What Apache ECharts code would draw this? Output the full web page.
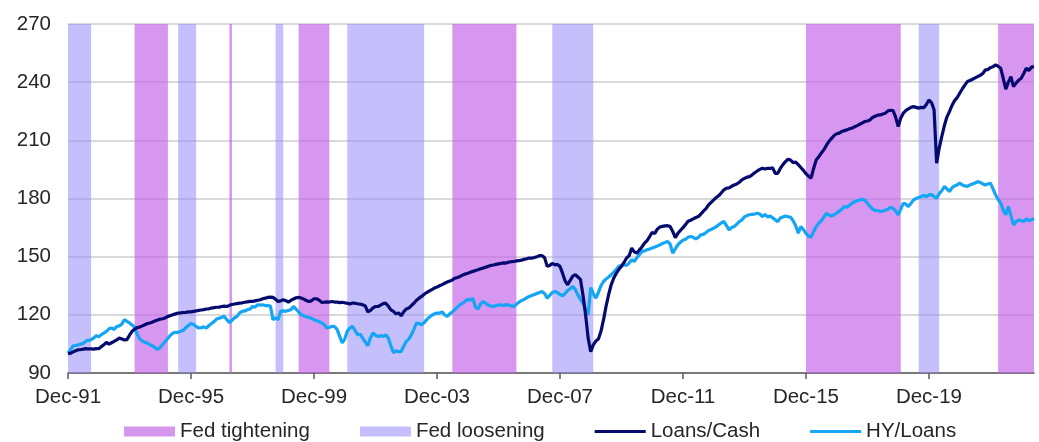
<!DOCTYPE html>
<html>
<head>
<meta charset="utf-8">
<script src="https://cdn.jsdelivr.net/npm/echarts@6/dist/echarts.min.js"></script>
<style>
  html, body { margin: 0; padding: 0; background: #fff; }
  #chart { width: 1039px; height: 442px; }
</style>
</head>
<body>
<div id="chart"></div>
<script>
// Monthly index levels, Dec-91 = 100, running Dec-91 .. May-23
const loansCash = [
  100.0,
  100.2, 100.9, 101.5, 102.0, 102.1, 102.3, 102.6, 102.4, 102.5, 102.3, 102.6, 102.5, // 1992
  103.6, 104.6, 105.8, 104.9, 105.6, 106.3, 107.1, 108.0, 107.6, 107.0, 107.2, 109.5, // 1993
  111.5, 112.6, 113.4, 113.7, 114.3, 114.9, 115.5, 115.8, 116.3, 116.9, 117.3, 117.8, // 1994
  118.0, 118.5, 119.2, 119.6, 120.1, 120.5, 120.9, 121.0, 121.2, 121.3, 121.5, 121.5, // 1995
  121.8, 122.0, 122.3, 122.5, 122.7, 123.0, 123.1, 123.5, 123.7, 123.9, 124.0, 124.3, // 1996
  124.5, 124.3, 124.9, 125.3, 125.6, 125.8, 126.0, 126.2, 126.5, 126.7, 126.9, 126.9, // 1997
  127.2, 127.5, 127.8, 128.3, 128.6, 129.0, 129.1, 129.0, 128.0, 126.9, 127.2, 127.8, // 1998
  127.3, 126.6, 127.4, 128.2, 128.8, 129.0, 128.7, 128.1, 127.4, 126.9, 127.2, 128.3, // 1999
  128.3, 127.6, 126.4, 126.5, 126.7, 126.6, 126.9, 126.6, 126.6, 126.3, 126.5, 126.2, // 2000
  126.0, 125.6, 126.1, 126.0, 125.7, 125.5, 125.2, 124.6, 121.6, 122.2, 123.6, 124.3, // 2001
  124.3, 125.0, 125.8, 126.0, 124.5, 122.6, 121.8, 120.5, 121.0, 119.5, 121.5, 123.0, // 2002
  123.5, 124.8, 126.0, 127.5, 128.6, 129.5, 130.6, 131.5, 132.3, 133.0, 133.8, 134.3, // 2003
  135.0, 135.6, 136.3, 136.9, 137.4, 138.0, 138.9, 139.3, 139.8, 140.5, 141.0, 141.4, // 2004
  142.0, 142.4, 142.9, 143.3, 143.8, 144.1, 144.6, 145.0, 145.5, 145.7, 146.0, 146.3, // 2005
  146.5, 146.8, 146.7, 147.2, 147.4, 147.5, 147.8, 148.0, 148.2, 148.6, 148.9, 149.3, // 2006
  149.2, 149.6, 150.0, 150.5, 150.5, 149.5, 145.0, 145.5, 146.5, 145.8, 146.0, 145.0, // 2007
  141.5, 137.5, 135.5, 137.8, 140.0, 140.7, 139.5, 138.3, 130.0, 120.0, 108.0, 101.0, // 2008
  104.5, 106.5, 107.5, 111.5, 117.5, 124.5, 130.5, 135.5, 139.0, 141.5, 143.5, 145.0, // 2009
  147.0, 149.3, 150.5, 154.4, 152.5, 151.8, 153.5, 155.0, 157.0, 158.3, 160.4, 162.5, // 2010
  162.0, 164.2, 165.3, 165.6, 165.9, 166.0, 165.5, 163.0, 159.8, 162.0, 163.5, 165.0, // 2011
  166.5, 168.3, 168.8, 169.5, 170.2, 170.7, 172.0, 173.5, 174.8, 176.7, 178.0, 179.3, // 2012
  180.5, 181.5, 183.0, 184.5, 185.3, 185.5, 186.3, 187.0, 187.5, 188.4, 189.6, 190.4, // 2013
  191.0, 191.3, 192.2, 193.3, 194.2, 195.0, 195.6, 195.2, 195.6, 195.5, 195.8, 193.0, // 2014
  193.0, 195.5, 197.5, 199.0, 200.3, 199.8, 198.5, 198.8, 197.5, 196.0, 194.5, 192.8, // 2015
  191.5, 190.5, 195.5, 199.9, 201.5, 203.5, 205.1, 207.5, 209.5, 211.0, 212.5, 213.4, // 2016
  213.7, 214.6, 215.0, 215.4, 216.0, 216.3, 217.0, 217.6, 218.3, 219.0, 219.7, 220.0, // 2017
  220.5, 221.8, 222.4, 223.0, 223.1, 223.6, 224.0, 225.2, 225.5, 225.3, 222.0, 217.1, // 2018
  221.5, 224.0, 225.4, 226.2, 227.0, 227.4, 227.0, 226.6, 227.0, 226.8, 228.5, 230.8, // 2019
  229.5, 225.7, 198.2, 206.0, 211.9, 217.5, 222.0, 224.8, 228.0, 230.5, 232.0, 234.3, // 2020
  236.5, 238.5, 240.3, 240.8, 241.5, 242.2, 242.9, 243.5, 244.5, 246.3, 246.5, 247.5, // 2021
  248.0, 248.9, 248.2, 247.2, 242.0, 236.4, 240.0, 242.9, 237.7, 239.5, 241.0, 242.0, // 2022
  244.5, 247.2, 246.0, 247.8, 248.0                                                   // 2023
];

const hyLoans = [
  100.3,
  102.0, 104.0, 104.2, 104.5, 105.0, 105.3, 106.5, 106.8, 107.2, 108.0, 109.2, 108.7, // 1992
  109.8, 110.6, 111.5, 112.8, 113.2, 112.5, 114.0, 114.3, 115.2, 117.5, 116.6, 115.8, // 1993
  114.8, 113.7, 110.0, 107.5, 106.5, 105.8, 105.4, 104.6, 104.0, 103.0, 102.2, 103.2, // 1994
  104.8, 106.3, 108.0, 109.5, 110.6, 111.0, 111.0, 111.5, 112.0, 113.5, 114.5, 115.5, // 1995
  115.0, 114.0, 113.2, 113.4, 113.8, 113.2, 114.5, 115.5, 116.5, 117.8, 118.3, 118.8, // 1996
  119.2, 117.5, 116.0, 117.2, 118.5, 119.2, 121.0, 121.8, 122.0, 122.6, 123.0, 124.3, // 1997
  124.0, 125.2, 125.0, 125.2, 124.8, 124.8, 124.5, 117.5, 118.5, 117.5, 121.8, 122.0, // 1998
  121.8, 122.3, 122.6, 124.3, 123.0, 121.5, 120.0, 119.5, 119.0, 118.6, 118.3, 117.5, // 1999
  117.0, 116.5, 115.8, 115.0, 113.2, 113.6, 114.0, 114.0, 112.5, 109.0, 105.5, 107.5, // 2000
  111.5, 113.2, 114.0, 112.0, 109.7, 110.0, 108.0, 106.0, 104.0, 108.0, 110.6, 109.5, // 2001
  108.9, 109.2, 108.9, 109.7, 108.0, 104.0, 100.5, 101.5, 101.0, 101.1, 103.8, 106.3, // 2002
  107.5, 109.7, 112.5, 115.8, 115.5, 114.9, 116.0, 117.5, 118.8, 119.8, 120.5, 120.9, // 2003
  120.9, 121.5, 120.0, 119.2, 120.5, 121.5, 122.8, 124.0, 125.2, 126.0, 127.0, 128.0, // 2004
  127.5, 128.6, 124.0, 123.0, 125.5, 126.9, 126.0, 125.0, 124.5, 124.3, 124.8, 125.0, // 2005
  125.2, 124.8, 125.3, 125.0, 124.6, 124.3, 125.5, 126.5, 127.3, 128.0, 128.8, 129.5, // 2006
  130.0, 130.5, 131.0, 131.5, 132.0, 131.0, 128.6, 130.0, 131.5, 132.0, 131.5, 130.5, // 2007
  129.8, 131.0, 132.5, 133.5, 134.6, 133.0, 130.3, 128.0, 126.0, 122.6, 120.0, 134.0, // 2008
  131.0, 128.6, 131.5, 135.0, 137.2, 138.5, 139.5, 140.7, 142.0, 143.5, 145.0, 145.5, // 2009
  145.8, 145.5, 146.7, 148.4, 147.5, 149.5, 151.0, 152.7, 153.0, 153.6, 154.0, 154.5, // 2010
  155.0, 155.5, 156.1, 156.8, 157.3, 157.9, 156.5, 151.8, 154.0, 156.1, 157.5, 158.5, // 2011
  159.0, 160.0, 160.4, 160.0, 159.2, 160.0, 161.3, 161.5, 162.5, 163.5, 164.0, 164.7, // 2012
  165.5, 166.5, 167.5, 168.1, 166.0, 163.8, 165.0, 165.5, 166.8, 168.1, 169.0, 170.5, // 2013
  171.2, 171.6, 171.8, 172.0, 172.4, 172.0, 170.7, 171.8, 170.5, 171.0, 170.0, 169.0, // 2014
  168.1, 170.0, 170.5, 171.0, 170.6, 170.4, 168.5, 166.0, 162.1, 165.5, 164.0, 162.0, // 2015
  160.5, 160.1, 163.0, 165.5, 167.3, 168.5, 170.5, 172.4, 171.5, 171.0, 171.6, 172.5, // 2016
  173.5, 174.5, 175.9, 175.5, 176.5, 177.5, 178.4, 178.8, 179.2, 179.7, 179.0, 177.6, // 2017
  176.0, 174.5, 173.8, 173.8, 173.3, 173.5, 174.0, 174.5, 175.5, 175.0, 173.5, 171.6, // 2018
  174.5, 177.6, 177.0, 175.9, 177.5, 179.3, 180.0, 180.5, 181.0, 181.5, 181.0, 181.9, // 2019
  182.0, 181.0, 180.2, 182.5, 184.0, 186.2, 185.0, 183.6, 185.5, 186.5, 187.0, 187.9, // 2020
  187.0, 186.5, 186.2, 187.0, 187.5, 188.0, 188.7, 188.3, 187.5, 187.0, 187.5, 187.9, // 2021
  185.0, 181.9, 179.5, 177.6, 174.0, 171.6, 175.9, 171.0, 166.4, 168.0, 169.0, 168.5, // 2022
  168.1, 169.5, 168.5, 169.0, 169.8                                                   // 2023
];

// Fed policy phases: [first month, last month]
const fedTightening = [
  ['Feb-94', 'Mar-95'],
  ['Mar-97', 'Apr-97'],
  ['Jun-99', 'Jun-00'],
  ['Jun-04', 'Jul-06'],
  ['Dec-15', 'Jan-19'],
  ['Mar-22', 'May-23']
];
const fedLoosening = [
  ['Dec-91', 'Sep-92'],
  ['Jul-95', 'Feb-96'],
  ['Sep-98', 'Dec-98'],
  ['Jan-01', 'Jul-03'],
  ['Sep-07', 'Jan-09'],
  ['Aug-19', 'Apr-20']
];

const xTickLabels = ['Dec-91', 'Dec-95', 'Dec-99', 'Dec-03', 'Dec-07', 'Dec-11', 'Dec-15', 'Dec-19'];
const yTicks = { min: 90, max: 270, step: 30 };

// Month labels "Mon-YY", one per data point, starting Dec-91
const MONTHS = ['Jan','Feb','Mar','Apr','May','Jun','Jul','Aug','Sep','Oct','Nov','Dec'];
const categories = loansCash.map((_, i) => {
  const t = 11 + i; // months since Jan-1991
  const yr = 1991 + Math.floor(t / 12);
  return MONTHS[t % 12] + '-' + String(yr).slice(2);
});

const TIGHT_FILL = 'rgba(196,100,232,0.67)';
const LOOSE_FILL = 'rgba(150,138,250,0.55)';
const TIGHT_KEY = '#D597EE';
const LOOSE_KEY = '#C5BEFD';
const NAVY = '#050A6E';
const SKY = '#14A5F5';
const FONT = '"Liberation Sans", Arial, sans-serif';
const showTick = (idx, val) => xTickLabels.includes(val);
const LINE_KEY = 'path://M0 0H51V3H0Z';

// Shaded policy bands, positioned by category index on the month axis
const toAreas = (ranges, fill) => ranges.map(([a, b]) => [
  { xAxis: categories.indexOf(a), itemStyle: { color: fill } },
  { xAxis: categories.indexOf(b) }
]);
const bandAreas = toAreas(fedTightening, TIGHT_FILL).concat(toAreas(fedLoosening, LOOSE_FILL));

const chart = echarts.init(document.getElementById('chart'), null, { renderer: 'canvas' });
chart.setOption({
  animation: false,
  textStyle: { fontFamily: FONT },
  grid: { left: 68, right: 5, top: 24, bottom: 69, containLabel: false },
  legend: {
    left: 124,
    top: 421,
    padding: 0,
    itemWidth: 51,
    itemHeight: 10,
    itemGap: 50,
    textStyle: { fontFamily: FONT, fontSize: 20.5, color: '#262626' },
    data: [
      { name: 'Fed tightening', icon: 'rect', itemStyle: { color: TIGHT_KEY } },
      { name: 'Fed loosening', icon: 'rect', itemStyle: { color: LOOSE_KEY } },
      { name: 'Loans/Cash', icon: LINE_KEY, itemStyle: { color: NAVY } },
      { name: 'HY/Loans', icon: LINE_KEY, itemStyle: { color: SKY } }
    ]
  },
  xAxis: {
    type: 'category',
    data: categories,
    boundaryGap: false,
    axisLine: { lineStyle: { color: '#595959', width: 1.5 } },
    axisTick: { show: true, interval: showTick, length: 6, lineStyle: { color: '#595959', width: 1.5 } },
    axisLabel: {
      interval: showTick,
      margin: 14,
      fontFamily: FONT,
      fontSize: 20.5,
      color: '#262626'
    },
    splitLine: { show: false }
  },
  yAxis: {
    type: 'value',
    min: yTicks.min,
    max: yTicks.max,
    interval: yTicks.step,
    axisLine: { show: false },
    axisTick: { show: false },
    axisLabel: { margin: 17, fontFamily: FONT, fontSize: 20.5, color: '#262626' },
    splitLine: { lineStyle: { color: '#D9D9D9', width: 2 } }
  },
  series: [
    { name: 'Fed tightening', type: 'bar', data: [], itemStyle: { color: TIGHT_KEY } },
    { name: 'Fed loosening', type: 'bar', data: [], itemStyle: { color: LOOSE_KEY } },
    {
      name: 'Loans/Cash',
      type: 'line',
      data: loansCash,
      symbol: 'none',
      showSymbol: false,
      z: 4,
      itemStyle: { color: NAVY },
      lineStyle: { color: NAVY, width: 3.2 },
      markArea: { silent: true, z: 1, data: bandAreas }
    },
    {
      name: 'HY/Loans',
      type: 'line',
      data: hyLoans,
      symbol: 'none',
      showSymbol: false,
      z: 3,
      itemStyle: { color: SKY },
      lineStyle: { color: SKY, width: 3.2 }
    }
  ]
});
</script>
</body>
</html>
